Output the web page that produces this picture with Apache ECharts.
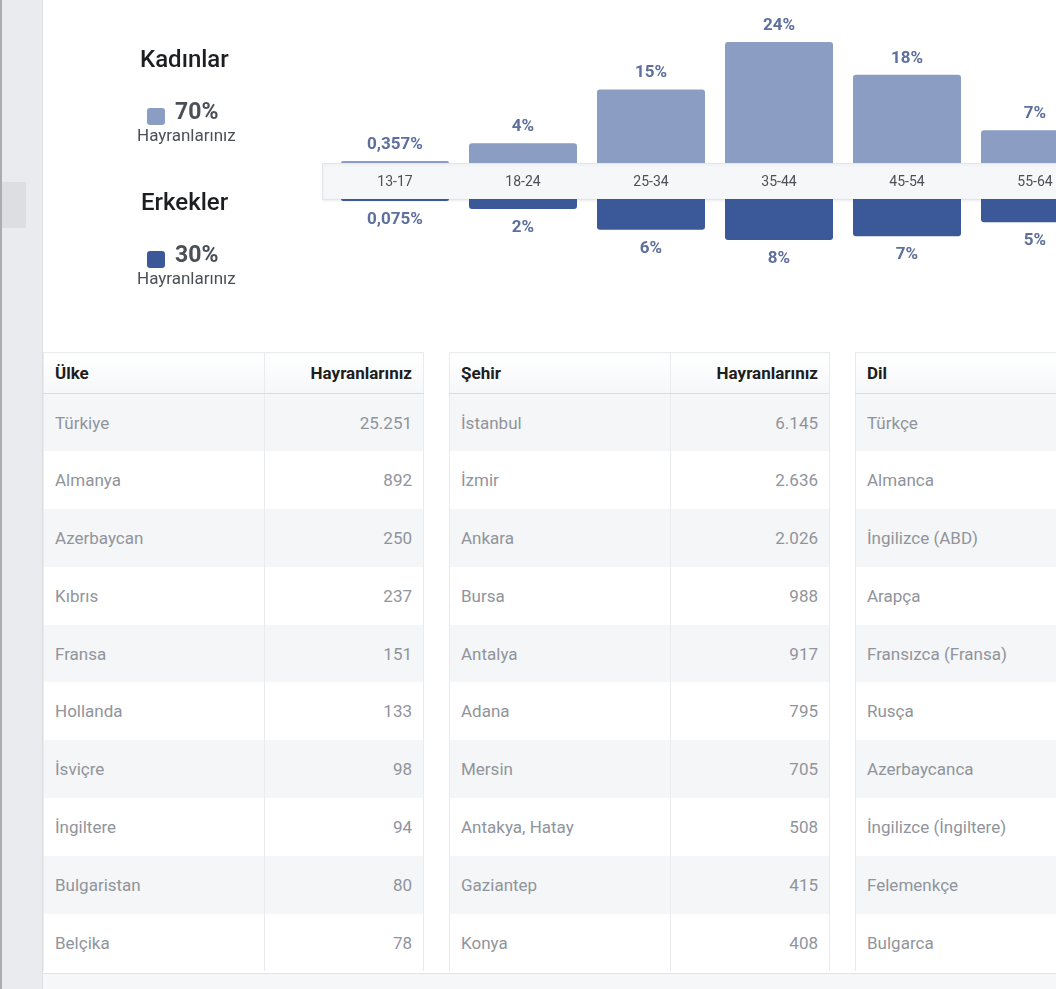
<!DOCTYPE html>
<html>
<head>
<meta charset="utf-8">
<script src="https://cdn.jsdelivr.net/npm/echarts@6/dist/echarts.min.js"></script>
<style>
  html, body { margin:0; padding:0; width:1056px; height:989px; overflow:hidden; background:#fff; font-family: Roboto, "Noto Sans", sans-serif; }
  #side { position:absolute; left:0; top:0; width:40px; height:989px; background:#e9ebee; border-left:2px solid #a9acb1; border-right:1px solid #dcdee2; z-index:5; }
  #sideTab { position:absolute; left:0; top:182px; width:24px; height:46px; background:#dcdee2; }
  #chart { position:absolute; left:43px; top:0; width:1100px; height:350px; }
  #tables { position:absolute; left:43px; top:352px; display:flex; }
  table { border-collapse:collapse; table-layout:fixed; margin-right:25px; flex:none; }
  th, td { padding:0 11px; box-sizing:border-box; }
  th { height:41px; font-size:17px; font-weight:700; color:#1c1e21; background:linear-gradient(#ffffff,#f6f7f9); border-top:1px solid #e9ebee; border-bottom:1px solid #d9dbdf; }
  td { height:57.8px; font-size:17px; color:#90949c; }
  tr.odd td { background:#f5f6f7; }
  .c1 { text-align:left; border-left:1px solid #e9ebee; border-right:1px solid #e9ebee; }
  .c2 { text-align:right; border-right:1px solid #e9ebee; }
  #foot { position:absolute; left:43px; top:973px; width:1100px; height:16px; background:#f6f7f9; border-top:1px solid #e2e4e8; }
</style>
</head>
<body>
<div id="side"><div id="sideTab"></div></div>
<div id="chart"></div>
<div id="tables"></div>
<div id="foot"></div>
<script>
// ---- data ----
const ageGroups = ['13-17', '18-24', '25-34', '35-44', '45-54', '55-64'];
const womenPct = [0.357, 3.9, 14.6, 24, 17.5, 6.5];
const menPct = [0.075, 2.0, 6.1, 8.1, 7.4, 4.6];
const womenTotal = 70;
const menTotal = 30;

const countries = ['Türkiye', 'Almanya', 'Azerbaycan', 'Kıbrıs', 'Fransa', 'Hollanda', 'İsviçre', 'İngiltere', 'Bulgaristan', 'Belçika'];
const countryFans = ['25.251', '892', '250', '237', '151', '133', '98', '94', '80', '78'];
const cities = ['İstanbul', 'İzmir', 'Ankara', 'Bursa', 'Antalya', 'Adana', 'Mersin', 'Antakya, Hatay', 'Gaziantep', 'Konya'];
const cityFans = ['6.145', '2.636', '2.026', '988', '917', '795', '705', '508', '415', '408'];
const languages = ['Türkçe', 'Almanca', 'İngilizce (ABD)', 'Arapça', 'Fransızca (Fransa)', 'Rusça', 'Azerbaycanca', 'İngilizce (İngiltere)', 'Felemenkçe', 'Bulgarca'];

// ---- tables ----
function buildTable(h1, h2, col1, col2) {
  let html = '<table style="width:380px"><colgroup><col style="width:221px"><col style="width:159px"></colgroup>';
  html += '<tr><th class="c1">' + h1 + '</th><th class="c2">' + h2 + '</th></tr>';
  col1.forEach((name, i) => {
    html += '<tr class="' + (i % 2 === 0 ? 'odd' : 'even') + '"><td class="c1">' + name + '</td><td class="c2">' + (col2 ? col2[i] : '') + '</td></tr>';
  });
  return html + '</table>';
}
document.getElementById('tables').innerHTML =
  buildTable('Ülke', 'Hayranlarınız', countries, countryFans) +
  buildTable('Şehir', 'Hayranlarınız', cities, cityFans) +
  buildTable('Dil', 'Hayranlarınız', languages, null);

// ---- chart ----
const fmt = p => (p.value < 1 ? String(p.value).replace('.', ',') : Math.round(p.value)) + '%';
const labelColor = '#5d6f9c';
const chart = echarts.init(document.getElementById('chart'), null, { renderer: 'canvas' });
chart.setOption({
  animation: false,
  grid: [
    { left: 288, top: 42, width: 768, height: 121 },
    { left: 288, top: 199, width: 768, height: 101 }
  ],
  xAxis: [
    { type: 'category', gridIndex: 0, data: ageGroups, z: 5,
      axisLine: { show: false }, axisTick: { show: false },
      axisLabel: { margin: 12, fontSize: 14, color: '#4b4f56', fontFamily: 'Roboto' } },
    { type: 'category', gridIndex: 1, data: ageGroups,
      axisLine: { show: false }, axisTick: { show: false }, axisLabel: { show: false } }
  ],
  yAxis: [
    { type: 'value', gridIndex: 0, min: 0, max: 24, show: false },
    { type: 'value', gridIndex: 1, min: 0, max: 20, inverse: true, show: false }
  ],
  graphic: [
    { type: 'rect', left: 279, top: 163, z: 0,
      shape: { width: 900, height: 36 },
      style: { fill: '#f6f7f9', stroke: '#e3e5e8', lineWidth: 1, shadowBlur: 3, shadowColor: 'rgba(0,0,0,0.08)', shadowOffsetY: 1 } },
    { type: 'text', left: 97, top: 49, style: { text: 'Kadınlar', font: '500 24px Roboto', fill: '#1c1e21' } },
    { type: 'rect', left: 104, top: 108, shape: { width: 18, height: 17, r: 3 }, style: { fill: '#8b9dc3' } },
    { type: 'text', left: 132, top: 102, style: { text: womenTotal + '%', font: '700 23px Roboto', fill: '#4b4f56' } },
    { type: 'text', left: 94, top: 128, style: { text: 'Hayranlarınız', font: '17px Roboto', fill: '#4b4f56' } },
    { type: 'text', left: 98, top: 192, style: { text: 'Erkekler', font: '500 24px Roboto', fill: '#1c1e21' } },
    { type: 'rect', left: 104, top: 251, shape: { width: 18, height: 17, r: 3 }, style: { fill: '#3b5998' } },
    { type: 'text', left: 132, top: 245, style: { text: menTotal + '%', font: '700 23px Roboto', fill: '#4b4f56' } },
    { type: 'text', left: 94, top: 271, style: { text: 'Hayranlarınız', font: '17px Roboto', fill: '#4b4f56' } }
  ],
  series: [
    { name: 'Kadınlar', type: 'bar', xAxisIndex: 0, yAxisIndex: 0, data: womenPct,
      barWidth: 108, barMinHeight: 2, z: 3,
      itemStyle: { color: '#8b9dc3', borderRadius: [3, 3, 0, 0] },
      label: { show: true, position: 'top', distance: 8, formatter: fmt,
        fontSize: 17, fontWeight: 'bold', color: labelColor, fontFamily: 'Roboto' } },
    { name: 'Erkekler', type: 'bar', xAxisIndex: 1, yAxisIndex: 1, data: menPct,
      barWidth: 108, barMinHeight: 2, z: 3,
      itemStyle: { color: '#3b5998', borderRadius: [0, 0, 3, 3] },
      label: { show: true, position: 'bottom', distance: 10, formatter: fmt,
        fontSize: 17, fontWeight: 'bold', color: labelColor, fontFamily: 'Roboto' } }
  ]
});
</script>
</body>
</html>
